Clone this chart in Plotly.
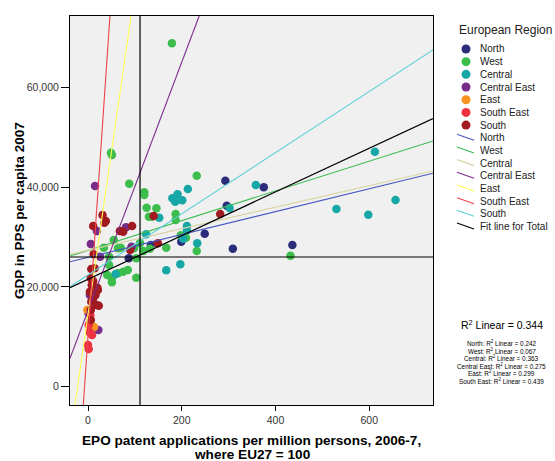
import plotly.graph_objects as go

# ---------------- data ----------------
regions = ["North", "West", "Central", "Central East", "East", "South East", "South"]

north_x = [293, 375, 296, 249, 199, 309, 436, 134, 87]
north_y = [41280, 39960, 36270, 30660, 29060, 27660, 28400, 28400, 25730]

west_x = [179, 49, 51, 232, 88, 120, 120, 125, 146, 187, 187, 130, 136, 55, 34, 167, 232, 118,
          132, 432, 198, 209, 64, 70, 103, 45, 41, 51, 64, 75, 85, 51, 103, 98, 111, 45]
west_y = [68820, 46890, 46430, 42280, 40680, 38960, 38420, 35870, 35750, 34610, 33410, 34070,
          34070, 29400, 27860, 27860, 27190, 27190, 27660, 26250, 30340, 29860, 27740, 27860,
          25730, 24390, 22380, 21720, 22730, 23060, 23390, 20920, 21840, 27740, 28740, 26050]

central_x = [612, 358, 656, 530, 598, 213, 191, 180, 186, 201, 152, 302, 124, 211, 211, 203,
             233, 197, 167, 59]
central_y = [47090, 40420, 37410, 35610, 34470, 39620, 38560, 37760, 37070, 37350, 33870, 35810,
             30540, 32200, 31340, 29660, 28740, 24530, 23330, 22590]

central_east_x = [15, 19, 81, 6, 26, 93, 4, 1, 22]
central_east_y = [40220, 31200, 31940, 28600, 26050, 28070, 18380, 14770, 11360]

east_x = [-1.5, 13]
east_y = [15370, 11960]

south_east_x = [1.5, 3.6, 8.5, 0, 1.5, 5]
south_east_y = [12360, 10900, 10360, 8360, 7560, 14370]

south_x = [31, 38, 35, 11, 68, 75, 94, 140, 282, 149, 90, 12, 7, 14, 6, 11, 20, 21, 8, 4,
           16, 11, 18, 23, 7, 6, 6]
south_y = [34410, 33210, 32870, 32200, 31200, 31060, 32200, 34210, 34610, 28740, 27390, 26530,
           23590, 23730, 21720, 21180, 19840, 19380, 20380, 19040, 18380, 17710, 16370, 16230,
           17030, 15370, 13370]

# fit lines: slope, intercept
fit_slopes = [22.9, 29.8, 21.6, 249, 652, 1371, 61.3]
fit_intercepts = [25920, 27320, 27350, 15250, 14450, 10080, 22390]
total_slope = 43.8
total_intercept = 21520

mean_x = 111
mean_y = 25990

r2_total = "0.344"
r2_labels = ["North", "West", "Central", "Central East", "East", "South East"]
r2_values = ["0.242", "0.067", "0.363", "0.275", "0.299", "0.439"]

x_ticks = [0, 200, 400, 600]
y_ticks = [0, 20000, 40000, 60000]
x_range = [-38.4, 736]
y_range = [-3670, 74300]

# ---------------- styling ----------------
marker_colors = ["#2b2d7a", "#3dbd4c", "#17a7a6", "#782b88", "#f7931e", "#ee3340", "#a01a1f"]
line_colors = ["#4457c0", "#3cbb50", "#d8d4a6", "#7b2b8b", "#ffff55", "#f0424b", "#5ccfd7"]
FONT = "Liberation Sans, Arial, sans-serif"

point_sets = [(north_x, north_y), (west_x, west_y), (central_x, central_y),
              (central_east_x, central_east_y), (east_x, east_y),
              (south_east_x, south_east_y), (south_x, south_y)]

fig = go.Figure()
for name, (xs, ys), col in zip(regions, point_sets, marker_colors):
    fig.add_trace(go.Scatter(x=xs, y=ys, mode="markers", name=name, showlegend=False,
                             marker=dict(size=8.5, color=col, line=dict(width=0))))

for name, s, b, col in zip(regions, fit_slopes, fit_intercepts, line_colors):
    fig.add_trace(go.Scatter(x=x_range, y=[b + s * v for v in x_range], mode="lines",
                             name=name, showlegend=False, line=dict(color=col, width=1.1)))
fig.add_trace(go.Scatter(x=x_range, y=[total_intercept + total_slope * v for v in x_range],
                         mode="lines", name="Fit line for Total", showlegend=False,
                         line=dict(color="black", width=1.2)))

# plot area in pixels: left 70, right 433, top 16, bottom 405
L, R, T, B = 70, 433, 16, 405
def px(xp):
    return (xp - L) / (R - L)
def py(yp):
    return (B - yp) / (B - T)

ann = []
shapes = []
# reference (mean) lines
shapes.append(dict(type="line", xref="x", yref="paper", x0=mean_x, x1=mean_x, y0=0, y1=1,
                   line=dict(color="black", width=1.2)))
shapes.append(dict(type="line", xref="paper", yref="y", x0=0, x1=1, y0=mean_y, y1=mean_y,
                   line=dict(color="black", width=1.2)))

# axis titles
ann.append(dict(text="<b>EPO patent applications per million persons, 2006-7,</b>",
                x=px(251.5), y=py(440.5), xref="paper", yref="paper", showarrow=False,
                xanchor="center", yanchor="middle", font=dict(size=13.6, color="black", family=FONT)))
ann.append(dict(text="<b>where EU27 = 100</b>",
                x=px(251.5), y=py(454), xref="paper", yref="paper", showarrow=False,
                xanchor="center", yanchor="middle", font=dict(size=13.6, color="black", family=FONT)))
ann.append(dict(text="<b>GDP in PPS per capita 2007</b>", textangle=-90,
                x=px(20), y=py(211), xref="paper", yref="paper", showarrow=False,
                xanchor="center", yanchor="middle", font=dict(size=13.5, color="black", family=FONT)))

# legend (drawn manually to match compact spacing)
ann.append(dict(text="European Region", x=px(456.5), y=py(30), xref="paper", yref="paper",
                showarrow=False, xanchor="left", yanchor="middle",
                font=dict(size=12, color="#222", family=FONT)))
legend_names = regions + regions + ["Fit line for Total"]
step = 12.68
for i, nm in enumerate(legend_names):
    yc = 49 + step * i
    ann.append(dict(text=nm, x=px(477.5), y=py(yc), xref="paper", yref="paper",
                    showarrow=False, xanchor="left", yanchor="middle",
                    font=dict(size=10, color="#222", family=FONT)))
    if i < 7:
        r = 4.5
        shapes.append(dict(type="circle", xref="paper", yref="paper",
                           x0=px(466 - r), x1=px(466 + r), y0=py(yc + r), y1=py(yc - r),
                           fillcolor=marker_colors[i], line=dict(width=0)))
    else:
        col = line_colors[i - 7] if i < 14 else "black"
        shapes.append(dict(type="line", xref="paper", yref="paper",
                           x0=px(457), y0=py(yc - 3.5), x1=px(474), y1=py(yc + 2.5),
                           line=dict(color=col, width=1.1)))

# R squared texts
ann.append(dict(text="R<sup>2</sup> Linear = " + r2_total, x=px(501.5), y=py(324),
                xref="paper", yref="paper", showarrow=False, xanchor="center", yanchor="middle",
                font=dict(size=10.5, color="black", family=FONT)))
for k, (lab, val) in enumerate(zip(r2_labels, r2_values)):
    ann.append(dict(text=lab + ": R<sup>2</sup> Linear = " + val, x=px(501.5),
                    y=py(343.3 + 7.5 * k), xref="paper", yref="paper", showarrow=False,
                    xanchor="center", yanchor="middle",
                    font=dict(size=6.4, color="black", family=FONT)))

fig.update_layout(
    width=555, height=461, autosize=False,
    margin=dict(l=L, r=555 - R, t=T, b=461 - B),
    paper_bgcolor="white", plot_bgcolor="#f0f0f0",
    font=dict(family=FONT, color="#333"),
    showlegend=False,
    annotations=ann, shapes=shapes,
    xaxis=dict(range=x_range, tickvals=x_ticks, ticks="outside", ticklen=5, tickcolor="black",
               showgrid=False, zeroline=False, showline=True, mirror=True, linecolor="black",
               linewidth=1, tickfont=dict(size=10.5, color="#333", family=FONT)),
    yaxis=dict(range=y_range, tickvals=y_ticks, tickformat=",", ticks="outside", ticklen=8,
               tickcolor="black", showgrid=False, zeroline=False, showline=True, mirror=True,
               linecolor="black", linewidth=1, tickfont=dict(size=10.5, color="#333", family=FONT)),
)

fig.write_html("out.html", config={"displayModeBar": False},
               post_script="document.body.style.margin='0';document.body.style.overflow='hidden';")
